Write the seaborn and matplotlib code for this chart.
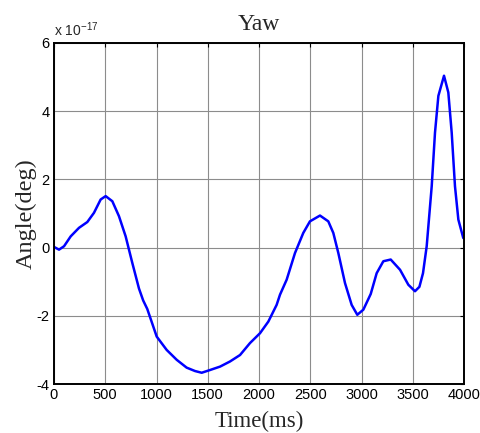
import matplotlib
matplotlib.use("Agg")
import matplotlib.pyplot as plt
import seaborn as sns
import pandas as pd

# Time (ms) and yaw angle (deg, in units of 1e-17)
time_ms = [0, 49, 98, 163, 244, 325, 390, 455, 504, 569, 634, 699, 764, 829, 870,
           910, 1002, 1099, 1197, 1294, 1376, 1441, 1522, 1620, 1717, 1815, 1912,
           2010, 2091, 2172, 2205, 2270, 2351, 2432, 2497, 2595, 2676, 2725, 2774,
           2839, 2904, 2959, 3018, 3090, 3148, 3213, 3285, 3376, 3457, 3522, 3565,
           3600, 3636, 3685, 3717, 3750, 3805, 3847, 3880, 3912, 3945, 3993]
angle = [0.02, -0.06, 0.04, 0.33, 0.58, 0.75, 1.02, 1.41, 1.51, 1.36, 0.92, 0.33,
         -0.45, -1.2, -1.55, -1.8, -2.61, -3.0, -3.29, -3.52, -3.62, -3.67, -3.59,
         -3.49, -3.34, -3.15, -2.8, -2.51, -2.17, -1.68, -1.38, -0.94, -0.16, 0.43,
         0.77, 0.94, 0.77, 0.43, -0.16, -1.04, -1.68, -1.97, -1.82, -1.36, -0.75,
         -0.4, -0.35, -0.65, -1.09, -1.28, -1.15, -0.75, 0.04, 1.8, 3.37, 4.45, 5.04,
         4.55, 3.37, 1.8, 0.82, 0.28]
x_ticks = [0, 500, 1000, 1500, 2000, 2500, 3000, 3500, 4000]
y_ticks = [-4, -2, 0, 2, 4, 6]

df = pd.DataFrame({"Time(ms)": time_ms, "Angle": angle})

sns.set_style("white")
plt.rcParams["font.family"] = ["Liberation Sans", "DejaVu Sans"]
plt.rcParams["mathtext.fontset"] = "custom"
plt.rcParams["mathtext.rm"] = "Liberation Sans"
plt.rcParams["mathtext.it"] = "Liberation Sans"

fig = plt.figure(figsize=(4.81, 4.33), dpi=100)
ax = fig.add_axes([54 / 481, 1 - 384 / 433, 410 / 481, 341 / 433])

sns.lineplot(data=df, x="Time(ms)", y="Angle", ax=ax, color="#0000ff",
             linewidth=1.8, sort=False, estimator=None)

ax.set_xlim(0, 4000)
ax.set_ylim(-4, 6)
ax.set_xticks(x_ticks)
ax.set_yticks(y_ticks)
ax.set_xticklabels([str(t) for t in x_ticks])
ax.set_yticklabels([str(t) for t in y_ticks])
ax.grid(True, color="#8c8c8c", linewidth=0.8, linestyle="-")
ax.tick_params(direction="in", length=3, width=0.8, top=True, right=True,
               labelsize=10.5, colors="black", pad=3)
for s in ax.spines.values():
    s.set_visible(True)
    s.set_color("black")
    s.set_linewidth(1.4)

serif = ["Liberation Serif", "DejaVu Serif"]
ax.set_title("Yaw", fontsize=17, family=serif, pad=9)
ax.set_xlabel("Time(ms)", fontsize=16.5, family=serif, labelpad=6)
ax.set_ylabel("Angle(deg)", fontsize=17.5, family=serif, labelpad=0)
ax.text(0.0, 1.012, r"x 10$^{-17}$", transform=ax.transAxes, fontsize=10,
        ha="left", va="bottom")

fig.savefig("out.png", dpi=100)
